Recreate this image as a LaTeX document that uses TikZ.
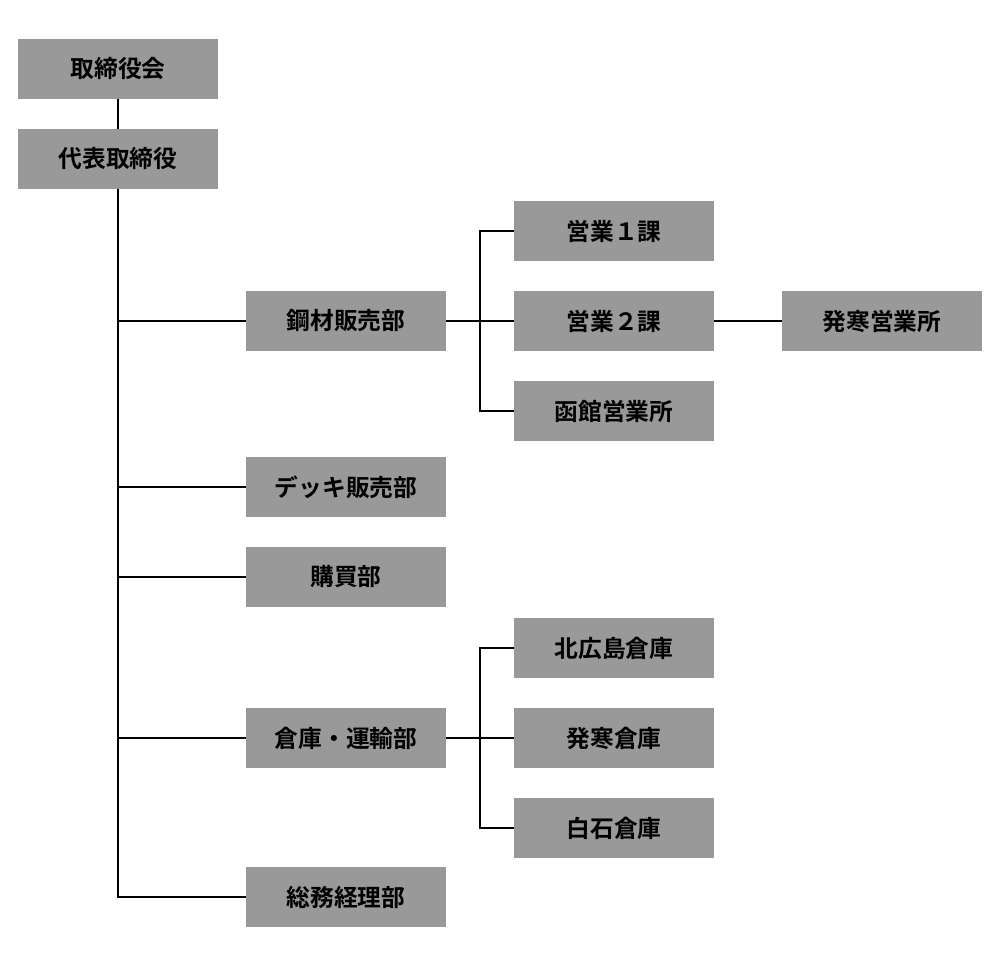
\documentclass[tikz,border=0pt]{standalone}
\usepackage{fontspec}
\newfontfamily\jp{Noto Sans CJK JP}[BoldFont={* Bold}]
\usetikzlibrary{calc}
\begin{document}
\begin{tikzpicture}[x=0.75pt,y=-0.75pt,
  box/.style={fill=boxgray,draw=none,minimum width=150pt,minimum height=45pt,inner sep=0pt,font=\jp\bfseries\fontsize{17.8pt}{20pt}\selectfont,text=black},
  conn/.style={draw=black,line width=1.1pt}]
\definecolor{boxgray}{HTML}{999999}
\useasboundingbox (0,0) rectangle (1000,966);
\node[box] (tori) at (118,69) {取締役会};
\node[box] (daihyo) at (118,159) {代表取締役};
\node[box] (kouzai) at (346,321) {鋼材販売部};
\node[box] (eigyo1) at (614,231) {営業１課};
\node[box] (eigyo2) at (614,321) {営業２課};
\node[box] (hakodate) at (614,411) {函館営業所};
\node[box] (hassamu) at (882,321) {発寒営業所};
\node[box] (deck) at (346,487) {デッキ販売部};
\node[box] (kobai) at (346,577) {購買部};
\node[box] (kitahiro) at (614,648) {北広島倉庫};
\node[box] (souko) at (346,738) {倉庫・運輸部};
\node[box] (hassouko) at (614,738) {発寒倉庫};
\node[box] (shiroishi) at (614,828) {白石倉庫};
\node[box] (soumu) at (346,897) {総務経理部};
\coordinate (bar1) at ($(kouzai.east)!0.5!(eigyo2.west)$);
\coordinate (bar2) at ($(souko.east)!0.5!(hassouko.west)$);
\draw[conn] (tori.south) -- (daihyo.north);
\draw[conn] (daihyo.south) |- (soumu.west);
\draw[conn] (daihyo.south |- kouzai.west) -- (kouzai.west);
\draw[conn] (daihyo.south |- deck.west) -- (deck.west);
\draw[conn] (daihyo.south |- kobai.west) -- (kobai.west);
\draw[conn] (daihyo.south |- souko.west) -- (souko.west);
\draw[conn] (kouzai.east) -- (eigyo2.west);
\draw[conn] (eigyo1.west) -| (bar1) |- (hakodate.west);
\draw[conn] (eigyo2.east) -- (hassamu.west);
\draw[conn] (souko.east) -- (hassouko.west);
\draw[conn] (kitahiro.west) -| (bar2) |- (shiroishi.west);
\end{tikzpicture}
\end{document}
